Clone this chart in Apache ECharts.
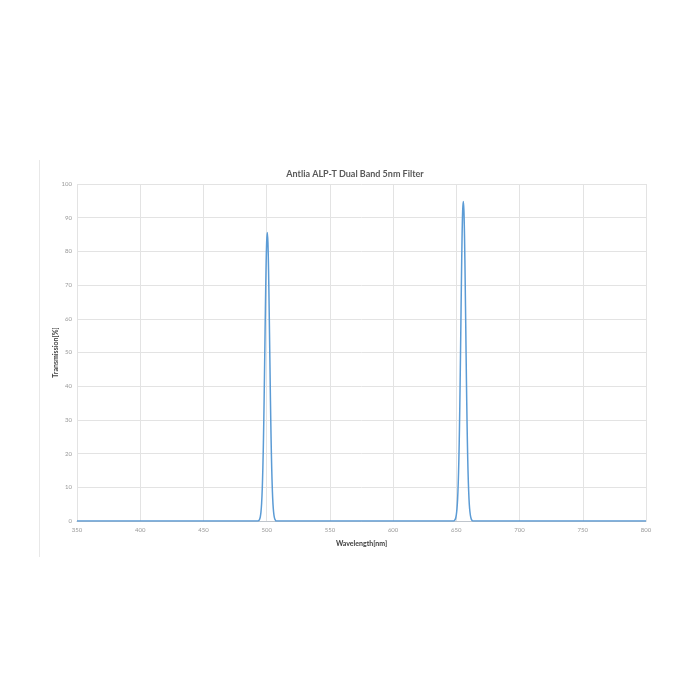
<!DOCTYPE html>
<html>
<head>
<meta charset="utf-8">
<script src="https://cdn.jsdelivr.net/npm/echarts@6/dist/echarts.min.js"></script>
<style>
html, body { margin: 0; padding: 0; background: #fff; }
#main { width: 700px; height: 700px; }
</style>
</head>
<body>
<div id="main"></div>
<script>
// wavelength in nm, transmission in %
var wavelength = [
	350, 493,
	493.5, 494, 494.5, 495, 495.5, 496, 496.5, 497, 497.5, 498, 498.5, 499, 499.5, 500,
	500.5, 501, 501.5, 502, 502.5, 503, 503.5, 504, 504.5, 505, 505.5, 506, 506.5, 507, 507.5,
	648, 648.5, 649, 649.5, 650, 650.5, 651, 651.5, 652, 652.5, 653, 653.5, 654, 654.5, 655,
	655.5, 656, 656.5, 657, 657.5, 658, 658.5, 659, 659.5, 660, 660.5, 661, 661.5, 662, 662.5,
	663, 800
];
var transmission = [
	0, 0,
	0, 0.2, 0.6, 1.3, 2.7, 5.2, 9.4, 15.9, 24.8, 36.2, 49.5, 62.9, 74.8, 82.8,
	85.6, 82.6, 74.4, 62.3, 48.9, 35.6, 24.3, 15.5, 9.1, 5.0, 2.6, 1.2, 0.5, 0.2, 0,
	0, 0.15, 0.4, 0.9, 1.9, 3.6, 6.5, 11.2, 18.2, 28.0, 40.8, 55.5, 70.5, 83.5, 92.0,
	94.8, 92.1, 83.8, 71.0, 56.2, 41.5, 28.6, 18.6, 11.5, 6.7, 3.7, 2.0, 1.0, 0.4, 0.15,
	0, 0
];
var xTicks = [350, 400, 450, 500, 550, 600, 650, 700, 750, 800];
var yTicks = [0, 10, 20, 30, 40, 50, 60, 70, 80, 90, 100];

var points = [];
for (var i = 0; i < wavelength.length; i++) {
	points.push([wavelength[i], transmission[i]]);
}

var myChart = echarts.init(document.getElementById('main'));
var option = {
	backgroundColor : '#fff',
	animation : false,
	title : {
		text : 'Antlia ALP-T Dual Band 5nm Filter',
		left : 350,
		top : 165,
		textAlign : 'center',
		textStyle : {
			fontFamily : 'Lato',
			fontSize : 9,
			fontWeight : 'bold',
			color : '#595959'
		}
	},
	graphic : [ {
		type : 'line',
		shape : { x1 : 39.5, y1 : 160, x2 : 39.5, y2 : 557 },
		style : { stroke : '#e8e8e8', lineWidth : 1 }
	} ],
	grid : {
		left : 77,
		right : 54,
		top : 184,
		bottom : 179
	},
	xAxis : {
		type : 'value',
		min : xTicks[0],
		max : xTicks[xTicks.length - 1],
		interval : 50,
		name : 'Wavelength[nm]',
		nameLocation : 'middle',
		nameGap : 19,
		nameMoveOverlap : false,
		nameTextStyle : {
			fontFamily : 'Lato',
			fontSize : 7,
			fontWeight : 'bold',
			color : '#404040'
		},
		axisLine : { lineStyle : { color : '#bfc5cc', width : 1 } },
		axisTick : { show : false },
		axisLabel : {
			fontFamily : 'Lato',
			fontSize : 6,
			color : '#999999',
			margin : 6
		},
		splitLine : { lineStyle : { color : '#e3e3e3', width : 1 } }
	},
	yAxis : {
		type : 'value',
		min : yTicks[0],
		max : yTicks[yTicks.length - 1],
		interval : 10,
		name : 'Transmission[%]',
		nameLocation : 'middle',
		nameGap : 18,
		nameMoveOverlap : false,
		nameTextStyle : {
			fontFamily : 'Lato',
			fontSize : 7,
			fontWeight : 'bold',
			color : '#404040'
		},
		axisLine : { show : false },
		axisTick : { show : false },
		axisLabel : {
			fontFamily : 'Lato',
			fontSize : 6,
			color : '#999999',
			margin : 5
		},
		splitLine : { lineStyle : { color : '#e3e3e3', width : 1 } }
	},
	series : [ {
		type : 'line',
		data : points,
		showSymbol : false,
		smooth : 0.3,
		lineStyle : { color : '#5b9bd5', width : 1.5 },
		itemStyle : { color : '#5b9bd5' }
	} ]
};
myChart.setOption(option);
</script>
</body>
</html>
